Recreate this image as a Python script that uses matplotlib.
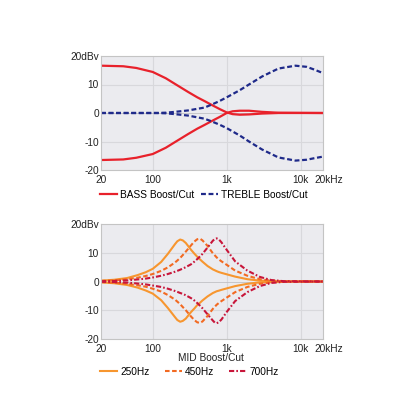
import numpy as np
import matplotlib.pyplot as plt
import matplotlib.transforms as mtransforms

# --- データ ---
bass_f = [20, 40, 60, 100, 150, 200, 300, 400, 500, 620, 800, 1000, 1200, 1500, 2000, 3000, 5000, 20000]
bass_boost = [16.6, 16.4, 15.8, 14.4, 12.2, 10.2, 7.4, 5.5, 4.2, 2.9, 1.4, 0.2, -0.4, -0.6, -0.5, -0.2, 0.0, 0.0]
bass_cut = [-16.5, -16.3, -15.7, -14.4, -12.2, -10.2, -7.4, -5.5, -4.2, -2.9, -1.4, 0.0, 0.6, 0.8, 0.8, 0.4, 0.1, 0.0]

treble_f = [20, 100, 150, 200, 300, 500, 620, 800, 1000, 1500, 2000, 3000, 5000, 8500, 12000, 15000, 20000]
treble_boost = [0.0, 0.0, 0.1, 0.4, 0.9, 1.9, 2.9, 4.2, 5.5, 8.0, 10.0, 12.8, 15.6, 16.6, 16.2, 15.3, 14.0]
treble_cut = [0.0, 0.0, -0.1, -0.4, -0.9, -2.0, -2.9, -4.1, -5.3, -7.9, -10.0, -12.8, -15.6, -16.7, -16.4, -15.9, -15.3]

mid_f = [20, 30, 45, 62, 80, 100, 130, 160, 200, 215, 235, 255, 280, 330, 365, 400, 435, 470, 550, 650,
         690, 730, 780, 850, 1000, 1300, 1900, 2800, 4000, 6000, 20000]
mid250_boost = [0.3, 0.6, 1.2, 2.2, 3.2, 4.4, 6.8, 9.6, 13.0, 14.0, 14.6, 14.3, 13.4, 11.0, 9.7, 8.6, 7.7, 6.9, 5.4, 4.2,
                3.9, 3.6, 3.3, 3.0, 2.5, 1.7, 0.8, 0.3, 0.1, 0.0, 0.0]
mid450_boost = [0.2, 0.4, 0.8, 1.3, 1.9, 2.6, 3.7, 4.9, 6.6, 7.3, 8.2, 9.2, 10.4, 12.6, 13.9, 14.7, 14.9, 14.3, 12.4, 9.8,
                9.1, 8.4, 7.7, 7.0, 5.8, 3.8, 2.0, 0.8, 0.3, 0.1, 0.0]
mid700_boost = [0.1, 0.2, 0.4, 0.7, 1.0, 1.4, 2.0, 2.6, 3.4, 3.7, 4.1, 4.5, 5.0, 6.0, 6.9, 7.8, 8.7, 9.6, 11.8, 14.2,
                14.8, 15.0, 14.7, 13.6, 11.0, 7.0, 3.8, 1.6, 0.5, 0.1, 0.0]
mid250_cut = [-0.3, -0.6, -1.2, -2.1, -3.1, -4.2, -6.5, -9.2, -12.4, -13.4, -14.0, -13.7, -12.9, -10.6, -9.4, -8.2, -7.4, -6.6, -5.2, -4.0,
              -3.7, -3.4, -3.2, -2.9, -2.4, -1.6, -0.8, -0.3, -0.1, 0.0, 0.0]
mid450_cut = [-0.2, -0.4, -0.8, -1.3, -1.8, -2.5, -3.5, -4.7, -6.3, -7.0, -7.9, -8.9, -10.0, -12.2, -13.4, -14.2, -14.4, -13.9, -12.0, -9.5,
              -8.8, -8.1, -7.5, -6.8, -5.6, -3.7, -1.9, -0.8, -0.3, -0.1, 0.0]
mid700_cut = [-0.1, -0.2, -0.4, -0.7, -1.0, -1.4, -1.9, -2.5, -3.3, -3.6, -4.0, -4.3, -4.8, -5.8, -6.6, -7.5, -8.4, -9.3, -11.4, -13.6,
              -14.3, -14.5, -14.2, -13.2, -10.6, -6.8, -3.7, -1.6, -0.5, -0.1, 0.0]

x_ticks = [20, 100, 1000, 10000, 20000]
x_labels = ['20', '100', '1k', '10k', '20kHz']
y_ticks = [-20, -10, 0, 10, 20]
y_labels = ['-20', '-10', '0', '10', '20dBv']

plt.rcParams['font.family'] = ['Liberation Sans', 'DejaVu Sans']

FS = 7.3
BG = '#ebebef'
GRID = '#d8d8dc'
RED = '#e8212b'
NAVY = '#1f2a8a'
OR1 = '#f7962f'
OR2 = '#f26a22'
CRIM = '#c8163a'

fig = plt.figure(figsize=(4.16, 4.16), dpi=100)
ax1 = fig.add_axes([101 / 416, 1 - 170 / 416, 222 / 416, 114 / 416])
ax2 = fig.add_axes([101 / 416, 1 - 339 / 416, 222 / 416, 115 / 416])


def style(ax):
    ax.set_xscale('log')
    ax.set_xlim(20, 20000)
    ax.set_ylim(-20, 20)
    ax.set_facecolor(BG)
    ax.set_xticks(x_ticks)
    ax.set_xticklabels(x_labels)
    ax.minorticks_off()
    ax.set_yticks(y_ticks)
    ax.set_yticklabels(y_labels)
    ax.tick_params(length=0, labelsize=FS, colors='#222222')
    ax.tick_params(axis='y', pad=1.5)
    ax.tick_params(axis='x', pad=3.5)
    # 20kHz は左寄せにして 10k と重ならないように
    lab = ax.get_xticklabels()[-1]
    lab.set_horizontalalignment('left')
    lab.set_transform(lab.get_transform() +
                      mtransforms.ScaledTranslation(-9 / 100, 0, fig.dpi_scale_trans))
    for v in [100, 1000, 10000]:
        ax.axvline(v, color=GRID, lw=0.8, zorder=0)
    for v in [-10, 10]:
        ax.axhline(v, color=GRID, lw=0.8, zorder=0)
    ax.axhline(0, color='#c0c0c4', lw=0.6, zorder=0)
    for s in ax.spines.values():
        s.set_color('#c4c4c4')
        s.set_linewidth(0.8)


style(ax1)
style(ax2)

# --- 上段: BASS / TREBLE ---
ls2 = (0, (2.2, 1.2))
l_bass, = ax1.plot(bass_f, bass_boost, color=RED, lw=1.6)
ax1.plot(bass_f, bass_cut, color=RED, lw=1.6)
l_treb, = ax1.plot(treble_f, treble_boost, color=NAVY, lw=1.6, ls=ls2)
ax1.plot(treble_f, treble_cut, color=NAVY, lw=1.6, ls=ls2)
fig.legend([l_bass, l_treb], ['BASS Boost/Cut', 'TREBLE Boost/Cut'],
           loc='center left', bbox_to_anchor=(100 / 416, 1 - 195 / 416), ncol=2, frameon=False,
           fontsize=FS, handlelength=1.7, handletextpad=0.3, columnspacing=0.6,
           borderaxespad=0, borderpad=0)

# --- 下段: MID ---
ls3 = (0, (2.5, 1.0, 0.8, 1.0))
l1, = ax2.plot(mid_f, mid250_boost, color=OR1, lw=1.5)
ax2.plot(mid_f, mid250_cut, color=OR1, lw=1.5)
l2, = ax2.plot(mid_f, mid450_boost, color=OR2, lw=1.5, ls=ls2)
ax2.plot(mid_f, mid450_cut, color=OR2, lw=1.5, ls=ls2)
l3, = ax2.plot(mid_f, mid700_boost, color=CRIM, lw=1.5, ls=ls3)
ax2.plot(mid_f, mid700_cut, color=CRIM, lw=1.5, ls=ls3)
fig.text(211 / 416, 1 - 358 / 416, 'MID Boost/Cut', fontsize=FS, color='#222222',
         ha='center', va='center')
fig.legend([l1, l2, l3], ['250Hz', '450Hz', '700Hz'],
           loc='center left', bbox_to_anchor=(100 / 416, 1 - 372 / 416), ncol=3, frameon=False,
           fontsize=FS, handlelength=1.7, handletextpad=0.3, columnspacing=1.5,
           borderaxespad=0, borderpad=0)

plt.savefig('out.png', dpi=100, facecolor='white')
